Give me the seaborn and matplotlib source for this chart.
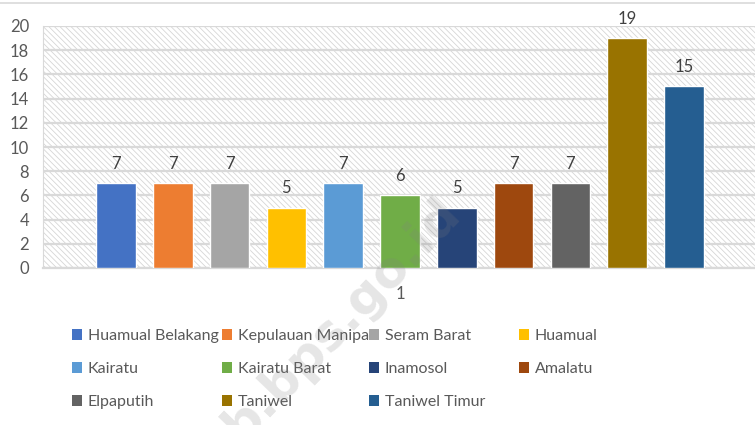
import numpy as np
import pandas as pd
import seaborn as sns
import matplotlib.pyplot as plt
from matplotlib.patches import Rectangle, Patch
from matplotlib.lines import Line2D

# kecamatan and their counts
kecamatan = ["Huamual Belakang", "Kepulauan Manipa", "Seram Barat", "Huamual",
             "Kairatu", "Kairatu Barat", "Inamosol", "Amalatu",
             "Elpaputih", "Taniwel", "Taniwel Timur"]
jumlah = [7, 7, 7, 5, 7, 6, 5, 7, 7, 19, 15]
kategori = ["1"] * len(kecamatan)
warna = ["#4472C4", "#ED7D31", "#A5A5A5", "#FFC000", "#5B9BD5", "#70AD47",
         "#264478", "#9E480E", "#636363", "#997300", "#255E91"]

df = pd.DataFrame({"kategori": kategori, "kecamatan": kecamatan, "jumlah": jumlah})

sns.set_style("white")
plt.rcParams["font.family"] = ["Lato", "DejaVu Sans"]
plt.rcParams["hatch.linewidth"] = 0.6
txt = "#595959"

fig = plt.figure(figsize=(7.55, 4.25), dpi=100)
ax = fig.add_axes([43 / 755, 1 - 268 / 425, 714 / 755, 242 / 425])

# hatched plot area
ax.add_patch(Rectangle((0, 0), 1, 1, transform=ax.transAxes, facecolor="white",
                       edgecolor="#d6d6d6", hatch="\\\\\\\\\\\\", lw=0, zorder=0))

sns.barplot(data=df, x="kategori", y="jumlah", hue="kecamatan", hue_order=kecamatan,
            palette=warna, width=0.875, gap=0.3, legend=False, ax=ax, zorder=3,
            saturation=1)

for c in ax.containers:
    ax.bar_label(c, padding=8, fontsize=12, color="#404040")

ax.set_ylim(0, 20)
ax.set_xlim(-0.5, 0.5)
ax.set_yticks(np.arange(0, 21, 2))
ax.yaxis.grid(True, color="#d9d9d9", lw=1.6, zorder=1)
ax.set_axisbelow(True)
ax.tick_params(axis="both", length=0, labelsize=12, labelcolor=txt)
ax.tick_params(axis="x", pad=13)
ax.tick_params(axis="y", pad=10)
ax.set_xlabel("")
ax.set_ylabel("")
for s in ["top", "right"]:
    ax.spines[s].set_visible(False)
ax.spines["left"].set_color("#d9d9d9")
ax.spines["bottom"].set_color("#d9d9d9")
ax.spines["bottom"].set_linewidth(1.6)

# legend, four columns placed like Excel's
kolom_x = [72, 222, 369, 519]
for c in range(4):
    idx = [i for i in (c, c + 4, c + 8) if i < len(kecamatan)]
    handles = [Patch(facecolor=warna[i], edgecolor="none") for i in idx]
    labels = [kecamatan[i] for i in idx]
    fig.legend(handles, labels, loc="upper left", bbox_to_anchor=(kolom_x[c] / 755, 1 - 329 / 425),
               frameon=False, fontsize=11.5, labelcolor=txt, handlelength=0.65, handleheight=0.65,
               handletextpad=0.35, labelspacing=1.2, borderaxespad=0, borderpad=0)

# chart top border
fig.add_artist(Line2D([0, 1], [1 - 3 / 425, 1 - 3 / 425], color="#d9d9d9", lw=1.2))

# watermark
fig.text(452 / 755, 1 - 205 / 425, "b.bps.go.id", fontsize=36, fontweight="bold",
         family="DejaVu Sans", color="gray", alpha=0.2, rotation=46, rotation_mode="anchor",
         ha="right", va="center", zorder=10)

fig.savefig("out.png", dpi=100)
